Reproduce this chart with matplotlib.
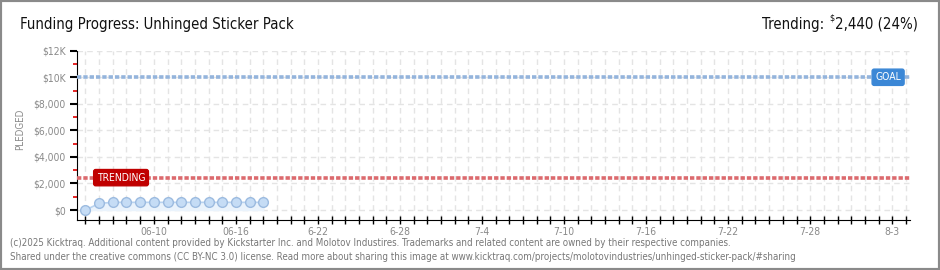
import numpy as np
import matplotlib.pyplot as plt
from matplotlib.patches import Rectangle
from matplotlib.ticker import FixedLocator, FuncFormatter

# Data
point_dates = ["06-05", "06-06", "06-07", "06-08", "06-09", "06-10", "06-11",
               "06-12", "06-13", "06-14", "06-15", "06-16", "06-17", "06-18"]
pledged = [0, 500, 580, 580, 580, 580, 580, 580, 580, 580, 580, 580, 580, 580]
goal = 10000
trending = 2440
trending_pct = 24
n_days = 61  # 06-05 .. 08-04
tick_days = [5, 11, 17, 23, 29, 35, 41, 47, 53, 59]
tick_labels = ["06-10", "06-16", "6-22", "6-28", "7-4", "7-10", "7-16", "7-22", "7-28", "8-3"]
y_ticks = [0, 2000, 4000, 6000, 8000, 10000, 12000]
y_labels = ["$0", "$2,000", "$4,000", "$6,000", "$8,000", "$10K", "$12K"]

plt.rcParams["font.family"] = "DejaVu Sans"
plt.rcParams["font.stretch"] = "condensed"

gray = "#8a8a8a"
fig = plt.figure(figsize=(9.4, 2.7), dpi=100)
ax = fig.add_axes([77 / 940, 1 - 220 / 270, (910 - 77) / 940, (220 - 50.7) / 270])

x = np.arange(len(pledged))
ax.fill_between(x, pledged, 0, color="#eaf3fc", zorder=2)
ax.plot(x, pledged, color="#b9d3f0", lw=1.2, zorder=3)
ax.plot(x, pledged, "o", ms=7, mfc="#c5dcf5", mec="#9cbbe0", mew=1, zorder=4)

# goal + trending lines
ax.axhline(goal, color="#94b4dc", lw=2.6, ls=(0, (1.2, 0.55)), zorder=3)
ax.axhline(trending, color="#dc6a6e", lw=2.6, ls=(0, (1.2, 0.55)), zorder=3)
ax.text(2.6, trending, "TRENDING", color="white", fontsize=7.5, ha="center", va="center",
        zorder=5, bbox=dict(boxstyle="round,pad=0.3,rounding_size=0.2", fc="#c00000", ec="#c00000"))
ax.text(58.7, goal, "GOAL", color="white", fontsize=7.5, ha="center", va="center",
        zorder=5, bbox=dict(boxstyle="round,pad=0.3,rounding_size=0.2", fc="#3b87d6", ec="#3b87d6"))

ax.set_xlim(-0.62, 60.3)
ax.set_ylim(-750, 12000)

# grid
for d in range(n_days):
    ax.axvline(d, color="#e4e4e4", lw=1, ls=(0, (4, 3)), zorder=1)
for yv in y_ticks:
    ax.axhline(yv, color="#e4e4e4", lw=1, ls=(0, (4, 3)), zorder=1)

for s in ["top", "right"]:
    ax.spines[s].set_visible(False)
ax.spines["left"].set_color("black")
ax.spines["bottom"].set_color("black")

lab = dict(zip(tick_days, tick_labels))
ax.xaxis.set_major_locator(FixedLocator(range(n_days)))
ax.xaxis.set_major_formatter(FuncFormatter(lambda v, p: lab.get(int(round(v)), "")))
ax.tick_params(axis="x", direction="inout", length=6, width=1, colors="black",
               labelcolor=gray, labelsize=7.5, pad=2)
ax.set_yticks(y_ticks)
ax.set_yticklabels(y_labels)
ax.set_yticks([1000, 3000, 5000, 7000, 9000, 11000], minor=True)
ax.tick_params(axis="y", which="major", direction="out", length=5, width=1.5, color="black",
               labelcolor=gray, labelsize=7.5, pad=3)
ax.tick_params(axis="y", which="minor", direction="out", length=3, width=1.2, color="#e00000")

fig.text(20 / 940, 1 - 129 / 270, "PLEDGED", rotation=90, color=gray, fontsize=7,
         ha="center", va="center")

# title and trending header
dark = "#111111"
fig.text(20 / 940, 1 - 24 / 270, "Funding Progress: Unhinged Sticker Pack", fontsize=10.7,
         color=dark, ha="left", va="center")
t1 = fig.text(918 / 940, 1 - 24 / 270, f"2,440 ({trending_pct}%)", fontsize=10.7,
              color=dark, ha="right", va="center")
fig.canvas.draw()
r = fig.canvas.get_renderer()
bb = t1.get_window_extent(r)
t2 = fig.text((bb.x0 - 1) / 940, 1 - 18 / 270, "$", fontsize=6.5, color=dark, ha="right", va="center")
bb2 = t2.get_window_extent(r)
fig.text((bb2.x0 - 5) / 940, 1 - 24 / 270, "Trending:", fontsize=10.7, color=dark,
         ha="right", va="center")

# footer
foot = "#777777"
fig.text(10 / 940, 1 - 243 / 270,
         "(c)2025 Kicktraq. Additional content provided by Kickstarter Inc. and Molotov Industires. "
         "Trademarks and related content are owned by their respective companies.",
         fontsize=7.0, color=foot, ha="left", va="center")
fig.text(10 / 940, 1 - 257 / 270,
         "Shared under the creative commons (CC BY-NC 3.0) license. Read more about sharing this image at "
         "www.kicktraq.com/projects/molotovindustries/unhinged-sticker-pack/#sharing",
         fontsize=7.0, color=foot, ha="left", va="center")

fig.patches.append(Rectangle((0, 0), 1, 1, transform=fig.transFigure, fill=False,
                             ec="#8a8a8a", lw=3, zorder=10))

fig.savefig("out.png", dpi=100)
